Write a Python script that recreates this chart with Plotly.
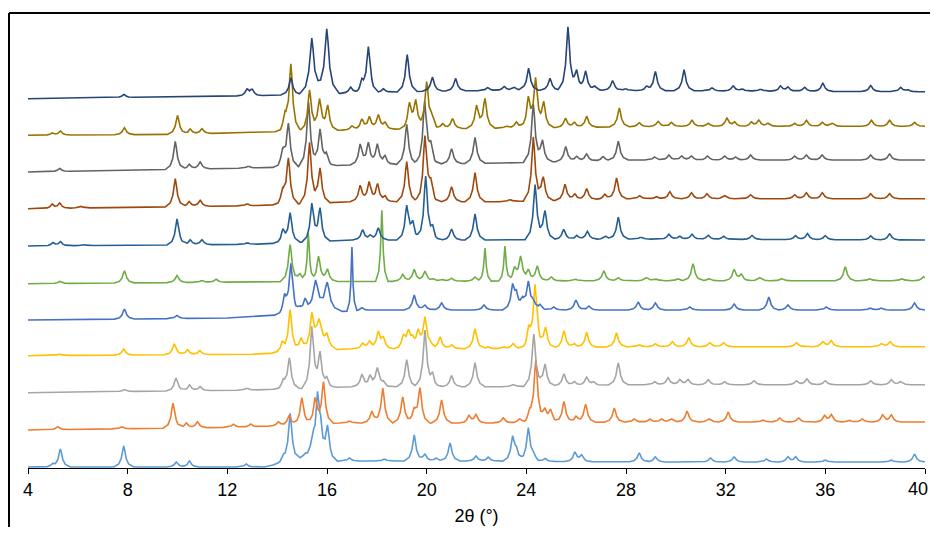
import numpy as np
import plotly.graph_objects as go

# peak lists: (2theta, height above baseline[, half width])
# heights are in the chart's own stacked units; bottom pattern first
peaks_1 = [(4.97, 3), (5.30, 18), (7.84, 21), (9.95, 5), (10.48, 6), (12.76, 3), (14.23, 5),
           (14.52, 48), (15.15, 8, 0.25), (15.43, 16), (15.62, 58), (15.74, 22), (16.02, 34),
           (16.9, 3), (18.3, 2), (19.5, 26), (19.93, 7), (20.38, 3), (20.94, 18), (21.98, 5),
           (22.47, 4), (23.45, 23), (23.6, 9), (24.08, 33), (24.28, 5), (24.75, 3), (25.95, 9),
           (26.22, 6), (28.53, 9), (29.18, 5), (31.39, 4), (32.34, 5), (33.64, 3), (34.5, 5),
           (34.81, 5), (36.0, 2), (38.65, 2), (39.58, 8)]
peaks_2 = [(5.19, 3), (7.77, 2), (9.82, 25), (10.35, 5), (10.8, 6), (12.25, 3), (12.94, 3),
           (14.05, 4), (14.48, 10), (14.99, 27), (15.52, 25), (15.86, 41), (16.9, 2), (17.8, 12),
           (18.24, 35), (19.04, 26), (19.5, 12), (19.73, 34), (20.6, 23), (21.7, 7), (21.98, 8),
           (23.07, 5), (23.73, 4), (24.14, 8), (24.38, 62), (24.75, 12), (24.97, 12),
           (25.51, 21), (25.99, 6), (26.38, 18), (27.53, 14), (28.33, 3), (28.96, 3), (29.43, 3),
           (29.83, 3), (30.45, 11), (31.33, 3), (32.1, 10), (33.5, 2), (34.17, 4), (34.93, 4),
           (35.97, 6), (36.24, 7), (36.95, 2), (37.48, 3), (38.3, 7), (38.65, 7)]
peaks_3 = [(7.87, 2), (9.94, 13), (10.48, 6), (10.91, 4), (12.79, 2), (14.25, 7), (14.49, 30),
           (15.39, 60), (15.72, 33), (15.99, 8), (17.4, 12), (17.73, 10), (18.02, 18),
           (18.26, 4), (19.2, 27), (19.93, 56), (20.24, 11), (21.0, 11), (21.94, 24), (23.47, 2),
           (24.3, 52), (24.75, 22), (25.51, 12), (25.93, 4), (26.42, 8), (26.7, 3), (27.69, 22),
           (29.15, 3), (29.69, 7), (30.16, 5), (30.49, 5), (31.3, 5), (31.96, 3), (33.14, 4),
           (34.84, 4), (35.26, 6), (36.0, 4), (37.82, 4), (38.65, 5), (39.02, 3)]
peaks_4 = [(5.27, 1.5), (7.84, 6), (9.87, 11), (10.4, 5), (10.89, 4), (14.2, 9), (14.52, 42),
           (14.96, 14), (15.39, 32), (15.68, 29, 0.14), (16.0, 12), (17.43, 5), (17.7, 7),
           (18.06, 16), (18.26, 10), (19.07, 12), (19.27, 16), (19.44, 8), (19.66, 16),
           (19.93, 30), (20.13, 4), (20.54, 12), (21.0, 4), (21.94, 20), (22.47, 2), (23.07, 2),
           (23.47, 5), (24.1, 17), (24.35, 62), (24.77, 21), (25.51, 17), (25.93, 4),
           (26.42, 15), (27.62, 14), (28.53, 2), (29.18, 3), (29.86, 5), (30.52, 9), (31.36, 4),
           (31.92, 4), (34.84, 4), (35.9, 5), (36.24, 6), (38.24, 3), (38.6, 5)]
peaks_5 = [(7.87, 10), (9.98, 3), (14.3, 16), (14.55, 49), (14.92, 5), (15.12, 12),
           (15.54, 31, 0.12), (16.01, 28, 0.12), (17.0, 64, 0.04), (17.4, 3), (19.5, 15),
           (19.93, 5), (20.6, 7), (22.3, 5), (23.45, 23), (23.6, 13), (23.85, 9), (24.08, 27),
           (24.28, 7), (24.55, 5), (25.1, 3), (25.99, 10), (26.51, 4), (28.49, 8), (29.18, 7),
           (30.56, 3), (32.34, 6), (33.73, 13), (34.5, 5), (36.04, 3), (37.8, 2), (38.24, 2),
           (39.58, 7)]
peaks_6 = [(5.27, 2), (7.87, 12), (9.98, 7), (10.98, 2), (11.55, 3), (14.52, 37), (14.92, 8),
           (15.25, 48, 0.05), (15.66, 25), (16.02, 12), (18.2, 71, 0.05), (19.04, 7), (19.5, 12),
           (19.93, 10), (20.27, 2), (20.6, 2), (21.0, 3), (21.94, 4), (22.34, 33, 0.05),
           (23.14, 35, 0.05), (23.53, 12), (23.77, 23), (24.08, 10), (24.44, 15), (25.0, 4),
           (25.95, 2), (27.11, 10), (27.69, 3), (28.82, 3), (29.18, 2), (30.09, 2), (30.69, 17),
           (31.32, 2), (32.34, 11), (32.63, 6), (33.37, 3), (34.24, 2), (36.8, 14), (37.78, 2),
           (39.07, 2), (39.94, 4)]
peaks_7 = [(5.0, 3), (5.3, 4), (6.23, 1), (9.98, 26), (10.51, 5), (10.98, 5), (12.8, 1.5),
           (14.23, 12), (14.52, 29), (15.39, 37), (15.72, 32), (17.43, 10), (17.73, 4),
           (18.06, 12), (19.2, 33), (19.44, 16), (19.96, 63), (20.24, 10), (21.0, 11),
           (21.94, 26), (24.35, 55), (24.75, 29), (25.5, 10), (26.02, 4), (26.45, 8), (27.19, 3),
           (27.69, 22), (28.6, 2), (29.72, 5), (30.16, 3), (30.65, 5), (31.3, 4), (31.92, 3),
           (33.06, 4), (34.8, 4), (35.28, 6), (36.0, 4), (37.82, 4), (38.58, 6)]
peaks_8 = [(4.97, 4), (5.27, 5), (6.1, 2), (9.91, 28), (10.47, 5), (10.91, 6), (12.79, 2),
           (14.23, 12), (14.45, 45), (15.3, 61), (15.72, 35), (17.33, 16), (17.69, 19),
           (18.03, 17), (18.33, 5), (19.2, 40), (19.93, 64), (20.16, 17), (21.0, 15), (21.94, 29),
           (23.34, 2), (24.28, 64), (24.68, 24), (25.55, 16), (25.95, 6), (26.42, 11),
           (27.15, 5), (27.62, 21), (28.55, 3), (29.22, 2), (29.76, 7), (30.63, 6), (31.25, 5),
           (31.96, 3), (33.0, 4), (34.77, 4), (35.24, 6), (35.88, 6), (37.82, 5), (38.58, 5)]
peaks_9 = [(5.27, 3), (9.91, 28), (10.47, 5), (10.91, 7), (12.85, 2), (14.23, 15), (14.45, 42),
           (15.26, 64), (15.72, 36), (15.97, 10), (17.33, 20), (17.66, 21), (18.02, 20),
           (18.33, 8), (19.2, 40), (19.92, 61), (20.16, 17), (21.0, 15), (21.94, 26), (24.28, 58),
           (24.65, 21), (25.58, 15), (26.02, 5), (26.42, 7), (27.08, 4), (27.69, 19), (29.15, 3),
           (29.72, 5), (30.23, 4), (30.63, 4), (31.27, 4), (31.96, 4), (32.4, 3), (33.0, 5),
           (34.77, 4), (35.24, 5), (35.87, 5), (37.82, 5), (38.58, 6)]
peaks_10 = [(4.97, 2), (5.3, 4), (7.87, 7), (10.0, 19), (10.51, 5), (10.98, 5), (14.32, 13),
            (14.55, 66), (15.3, 41), (15.7, 31), (16.03, 24), (17.0, 4), (17.4, 10), (17.7, 12),
            (18.06, 14), (18.33, 6), (19.31, 24), (19.56, 27), (20.0, 46), (20.2, 9),
            (20.64, 5), (21.04, 10), (22.0, 22), (22.34, 29), (23.2, 2), (23.6, 6), (24.08, 28),
            (24.37, 47), (24.7, 24), (25.57, 9), (25.93, 5), (26.42, 11), (27.73, 19),
            (28.53, 4), (29.29, 5), (29.82, 4), (30.65, 6), (31.3, 3), (32.05, 8), (32.36, 4),
            (33.03, 4), (33.33, 6), (33.7, 3), (34.77, 3), (35.24, 6), (35.88, 4), (36.28, 3),
            (37.85, 6), (38.58, 6), (39.58, 4)]
peaks_11 = [(7.85, 3), (12.79, 6), (12.99, 6), (14.55, 17), (15.39, 56, 0.1), (15.99, 65, 0.1),
            (16.95, 6), (17.4, 10), (17.66, 45), (18.26, 3.5), (19.22, 37), (20.23, 14),
            (21.16, 12.5), (22.45, 3), (23.11, 4), (23.51, 3), (24.09, 22), (24.95, 12),
            (25.67, 63), (26.02, 18), (26.38, 19), (26.75, 4), (27.46, 10), (27.98, 2),
            (28.82, 4), (29.18, 19), (30.33, 21), (31.45, 3), (32.3, 5), (32.67, 2),
            (33.4, 2), (34.2, 5), (34.5, 4), (35.17, 4), (35.9, 8), (37.82, 6), (39.02, 4),
            (39.3, 2)]

# background knots (2theta, rise above the pattern's start level)
bg_1 = [(4, 0), (13.5, 0), (14.2, 4), (16.5, 6), (22, 6), (30, 5), (40, 5)]
bg_2 = [(4, 0), (13, 3), (16.5, 7), (22, 7), (28, 8), (40, 8)]
bg_3 = [(4, 0), (13, 2.7), (17, 6), (23, 6), (28, 8), (40, 8)]
bg_4 = [(4, 0), (13, 1.5), (17, 7), (23, 7), (28, 9), (40, 9)]
bg_5 = [(4, 0), (12, 2), (16, 8), (18, 10), (40, 10)]
bg_6 = [(4, 0), (14, 2), (28, 3), (40, 3)]
bg_7 = [(4, 0), (13, 1.7), (17, 6), (22, 6), (28, 7), (40, 6)]
bg_8 = [(4, 0), (13, 3), (17, 7), (23, 7), (28, 10), (40, 10)]
bg_9 = [(4, 0), (13, 4), (17, 7), (23, 9), (28, 12), (40, 12)]
bg_10 = [(4, 0), (10, 1), (13, 3), (18, 6), (22, 7), (30, 9), (40, 9)]
bg_11 = [(4, 0), (13, 3), (16, 5), (20, 7.5), (24, 8.5), (30, 8), (40, 7)]

# stacking offsets of the patterns, bottom to top
offsets = [1, 38, 75.3, 112.3, 148, 184.3, 222, 259.3, 296, 332.7, 369.3]

tick_vals = [4, 8, 12, 16, 20, 24, 28, 32, 36, 40]

all_peaks = [peaks_1, peaks_2, peaks_3, peaks_4, peaks_5, peaks_6,
             peaks_7, peaks_8, peaks_9, peaks_10, peaks_11]
all_bg = [bg_1, bg_2, bg_3, bg_4, bg_5, bg_6, bg_7, bg_8, bg_9, bg_10, bg_11]

colors = ["#5B9BD5", "#ED7D31", "#A5A5A5", "#FFC000", "#4472C4", "#70AD47",
          "#255E91", "#9E480E", "#636363", "#997300", "#264478"]

# peak outline (Lorentz-like), in units of the half width
HALF_WIDTH = 0.08
SHAPE_DX = [-5, -2.5, -1.25, -0.5, 0, 0.5, 1.25, 2.5, 5]
SHAPE_FR = [0, 0.14, 0.4, 0.8, 1, 0.8, 0.4, 0.14, 0]


def profile(peaks, bg, offset):
    # piecewise linear pattern: background plus one outline per peak
    xs = {4.0, 40.0}
    xs.update(k[0] for k in bg)
    for pk in peaks:
        hw = pk[2] if len(pk) > 2 else HALF_WIDTH
        xs.update(pk[0] + d * hw for d in SHAPE_DX)
    x = np.array(sorted(v for v in xs if 4 <= v <= 40))
    y = offset + np.interp(x, [k[0] for k in bg], [k[1] for k in bg])
    for pk in peaks:
        hw = pk[2] if len(pk) > 2 else HALF_WIDTH
        px = [pk[0] + d * hw for d in SHAPE_DX]
        y = y + pk[1] * np.interp(x, px, SHAPE_FR, left=0, right=0)
    return x, y


fig = go.Figure()
for peaks, bg, off, col in zip(all_peaks, all_bg, offsets, colors):
    x, y = profile(peaks, bg, off)
    fig.add_trace(go.Scatter(x=x, y=y, mode="lines",
                             line=dict(color=col, width=1.6), hoverinfo="skip"))

# the page puts 8px around the figure; keep it inside the window
fig.update_layout(
    width=922, height=519,
    margin=dict(l=20, r=5, t=12, b=59),
    plot_bgcolor="white", paper_bgcolor="white",
    showlegend=False,
    font=dict(family="Liberation Sans, Arial", color="black"),
)
# last label does not fit at the figure edge, it is written as an annotation
fig.update_xaxes(
    range=[4, 40], tickvals=tick_vals,
    ticktext=[str(v) for v in tick_vals[:-1]] + [""],
    ticks="outside", ticklen=5, tickcolor="black",
    showline=True, linecolor="black", linewidth=1,
    showgrid=False, zeroline=False,
    tickfont=dict(size=18),
    title=dict(text="2θ (°)", font=dict(size=18), standoff=10),
)
fig.update_yaxes(visible=False, range=[0, 448])
fig.add_annotation(x=tick_vals[-1], xref="x", y=0, yref="paper",
                   text=str(tick_vals[-1]), showarrow=False,
                   xanchor="right", yanchor="top", xshift=5, yshift=-9,
                   font=dict(size=18, color="black"))

# outer frame of the picture: only its top and left sides are in view
frame_left = (1 - 20) / 897
frame_top = (460 - 5) / 448
fig.add_shape(type="line", xref="paper", yref="paper",
              x0=frame_left, x1=1.01, y0=frame_top, y1=frame_top,
              line=dict(color="black", width=2))
fig.add_shape(type="line", xref="paper", yref="paper",
              x0=frame_left, x1=frame_left, y0=-0.2, y1=frame_top,
              line=dict(color="black", width=2))

fig.write_html("out.html")
